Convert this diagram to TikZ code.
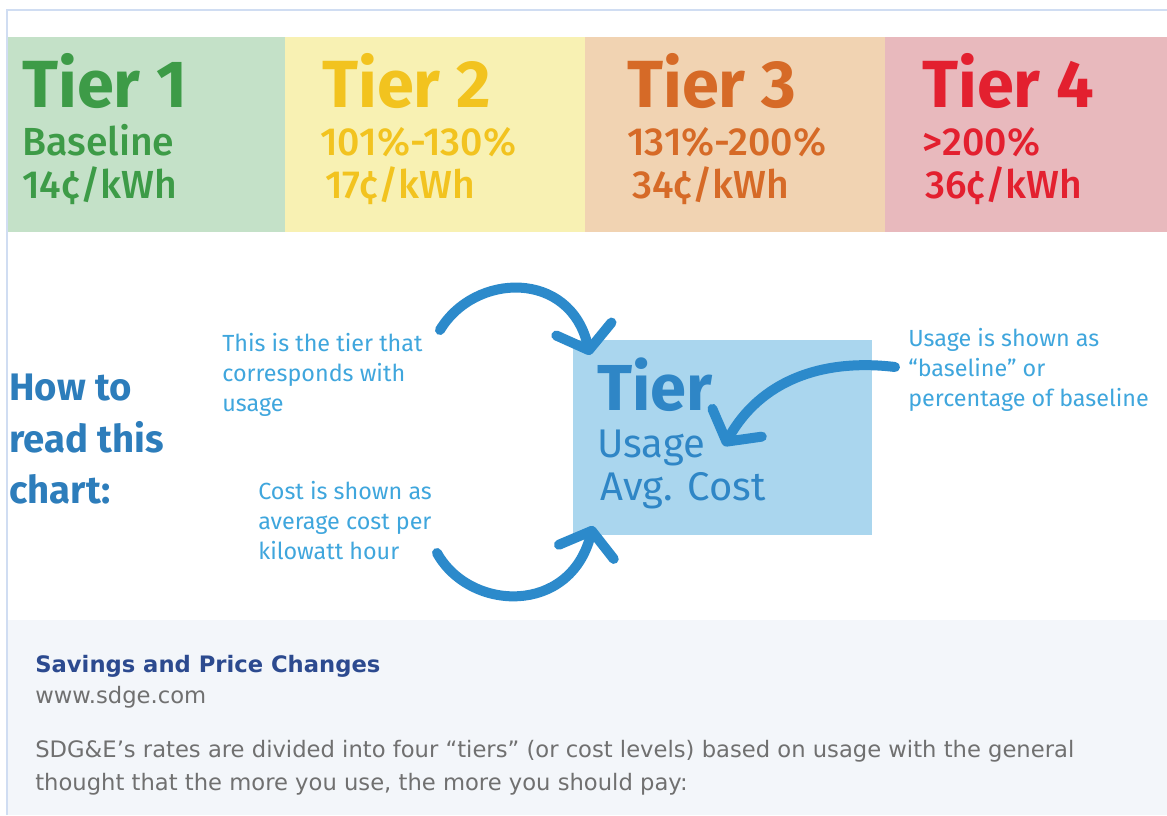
\documentclass[tikz,border=0pt]{standalone}
\usepackage{fontspec}
\setmainfont{Fira Sans}
\newfontfamily\firamed{Fira Sans Medium}
\newfontfamily\tah{DejaVu Sans}
\usetikzlibrary{arrows.meta}
\definecolor{framec}{HTML}{D0DDF2}
\definecolor{tAbg}{HTML}{C4E1C8}
\definecolor{tAtx}{HTML}{3D9B47}
\definecolor{tBbg}{HTML}{F8F1B3}
\definecolor{tBtx}{HTML}{F2C31F}
\definecolor{tCbg}{HTML}{F1D3B2}
\definecolor{tCtx}{HTML}{D66A27}
\definecolor{tDbg}{HTML}{E8B9BD}
\definecolor{tDtx}{HTML}{E3202F}
\definecolor{howc}{HTML}{2D7DBB}
\definecolor{boxc}{HTML}{AAD6EE}
\definecolor{boxtx}{HTML}{2F86C6}
\definecolor{arrc}{HTML}{2C8ACB}
\definecolor{callc}{HTML}{3FA6DD}
\definecolor{botbg}{HTML}{F3F6FA}
\definecolor{headc}{HTML}{2C4A8F}
\definecolor{grayc}{HTML}{707070}
\tikzset{
  tiertitle/.style={anchor=base west, inner sep=0, font=\bfseries\fontsize{40}{40}\selectfont},
  tiersub/.style={anchor=base west, inner sep=0, font=\firamed\fontsize{23.5}{23.5}\selectfont},
  howtx/.style={anchor=base west, inner sep=0, text=howc, font=\bfseries\fontsize{23}{23}\selectfont},
  callout/.style={anchor=north west, inner sep=0, align=left, text=callc, font=\fontsize{14}{18}\selectfont},
  bigarrow/.style={draw=arrc, line width=6pt, line cap=round, -{Straight Barb[length=13pt,width=34pt,round]}},
  bodytx/.style={anchor=base west, inner sep=0, text=grayc, font=\tah\fontsize{13.6}{16}\selectfont},
}
\begin{document}
\begin{tikzpicture}[x=0.6pt,y=-0.6pt]
\useasboundingbox (0,0) rectangle (1167,815);
\fill[white] (0,0) rectangle (1167,815);
% tier bands
\fill[tAbg] (8,37) rectangle (285,232);
\fill[tBbg] (285,37) rectangle (585,232);
\fill[tCbg] (585,37) rectangle (885,232);
\fill[tDbg] (885,37) rectangle (1167,232);
\node[tiertitle, text=tAtx] (t1) at (22,107) {Tier 1};
\node[tiersub, text=tAtx] (t1a) at (22,155) {Baseline};
\node[tiersub, text=tAtx] (t1b) at (22,198) {14¢/kWh};
\node[tiertitle, text=tBtx] (t2) at (322,107) {Tier 2};
\node[tiersub, text=tBtx] (t2a) at (320,155) {101\%-130\%};
\node[tiersub, text=tBtx] (t2b) at (325,198) {17¢/kWh};
\node[tiertitle, text=tCtx] (t3) at (627,107) {Tier 3};
\node[tiersub, text=tCtx] (t3a) at (627,155) {131\%-200\%};
\node[tiersub, text=tCtx] (t3b) at (632,198) {34¢/kWh};
\node[tiertitle, text=tDtx] (t4) at (922,107) {Tier 4};
\node[tiersub, text=tDtx] (t4a) at (922,155) {>200\%};
\node[tiersub, text=tDtx] (t4b) at (925,198) {36¢/kWh};
% how to read
\node[howtx] (h1) at (9,400) {How to};
\node[howtx] (h2) at (9,452) {read this};
\node[howtx] (h3) at (9,503) {chart:};
% box
\node[fill=boxc, anchor=north west, inner sep=0, minimum width=179.4pt, minimum height=117pt] (box) at (573,340) {};
\node[anchor=base west, inner sep=0, text=boxtx, font=\bfseries\fontsize{39}{39}\selectfont] (bt) at (597,410) {Tier};
\node[anchor=base west, inner sep=0, text=boxtx, font=\fontsize{24}{24}\selectfont] (bu) at (597,457) {Usage};
\node[anchor=base west, inner sep=0, text=boxtx, font=\fontsize{24}{24}\selectfont] (bc) at (600,500) {Avg. Cost};
% callouts
\node[callout] (c1) at (222,333) {This is the tier that\\corresponds with\\usage};
\node[callout] (c2) at (258,481) {Cost is shown as\\average cost per\\kilowatt hour};
\node[callout] (c3) at (908,328) {Usage is shown as\\“baseline” or\\percentage of baseline};
% arrows
\coordinate (a1s) at (440,330);
\coordinate (a1e) at (590,355);
\coordinate (a2s) at (437,553);
\coordinate (a2e) at (593,526);
\coordinate (a3s) at (895,367);
\coordinate (a3e) at (724,446);
\draw[bigarrow] (a1s) .. controls (475,272) and (570,270) .. (a1e);
\draw[bigarrow] (a2s) .. controls (470,612) and (570,615) .. (a2e);
\draw[bigarrow] (a3s) .. controls (820,358) and (760,382) .. (a3e);
% bottom
\fill[botbg] (8,620) rectangle (1167,815);
\node[anchor=base west, inner sep=0, text=headc, font=\tah\bfseries\fontsize{13.6}{16}\selectfont] (sv) at (35,672) {Savings and Price Changes};
\node[bodytx] (url) at (35,703) {www.sdge.com};
\node[bodytx] (b1) at (35,757) {SDG\&E’s rates are divided into four “tiers” (or cost levels) based on usage with the general};
\node[bodytx] (b2) at (35,790) {thought that the more you use, the more you should pay:};
% frame
\draw[framec, line width=0.8pt] (7,815) -- (7,10) -- (1167,10);
\end{tikzpicture}
\end{document}
